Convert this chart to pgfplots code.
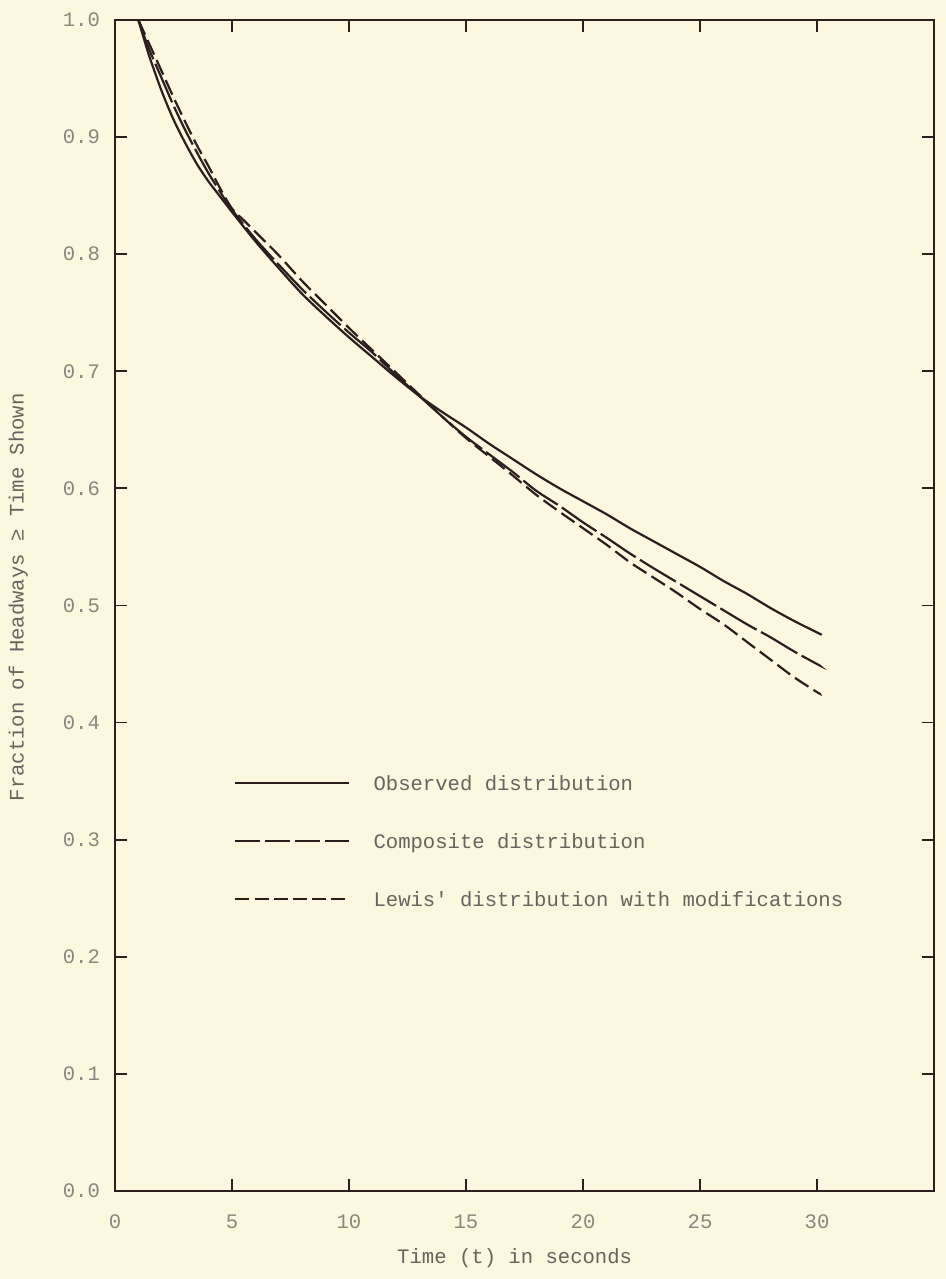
\documentclass[border=0pt]{standalone}
\usepackage{fontspec}
\setmainfont{Liberation Mono}[Ligatures=TeXOff]
\usepackage{pgfplots}
\pgfplotsset{compat=1.18}
\usetikzlibrary{backgrounds,calc}
\definecolor{bg}{RGB}{252,248,223}
\definecolor{ink}{RGB}{45,30,30}
\definecolor{tickgray}{RGB}{138,134,128}
\definecolor{txt}{RGB}{105,98,94}
\newcommand{\tfont}{\fontsize{10.3}{12}\selectfont}
\begin{document}
\begin{tikzpicture}
\begin{axis}[name=ax, scale only axis, width=409.5pt, height=585.5pt,
  xmin=0, xmax=35, ymin=0, ymax=1,
  xtick={0,5,...,30}, ytick={0,0.1,...,1.0},
  tick align=inside, major tick length=6pt,
  axis line style={ink, line width=1.1pt},
  every tick/.style={ink, line width=0.9pt},
  /pgf/number format/assume math mode=true,
  tick label style={font=\tfont, text=tickgray},
  xticklabel style={yshift=-8.5pt},
  yticklabel style={/pgf/number format/fixed, /pgf/number format/fixed zerofill, /pgf/number format/precision=1, xshift=-4pt},
  xlabel={Time (t) in seconds},
  ylabel={Fraction of Headways ≥ Time Shown},
  label style={font=\tfont, text=txt},
  xlabel style={at={(axis description cs:0.488,-0.0572)}, anchor=center},
  ylabel style={at={(axis description cs:-0.118,0.507)}, anchor=center},
  legend cell align=left,
  legend image code/.code={\draw[#1] (0pt,0.8pt) -- (57pt,0.8pt);},
  legend style={draw=none, fill=none, inner sep=0pt, outer sep=0pt,
    at={(axis cs:5.1,0.3555)}, anchor=north west, font=\tfont, text=txt,
    row sep=19pt, column sep=11.5pt,
    nodes={inner sep=0pt, text height=8pt, text depth=2pt}},
]
\addplot[ink, line width=1.1pt, smooth] coordinates {
(1,1.000)(1.25,0.983)(1.5,0.967)(2,0.939)(2.5,0.915)(3,0.895)(3.5,0.877)(4,0.862)(4.5,0.849)(5,0.836)
(6,0.811)(7,0.788)(8,0.766)(9,0.747)(10,0.729)(11,0.712)(12,0.695)(13,0.679)(14,0.665)(15,0.652)
(16,0.638)(17,0.625)(18,0.612)(19,0.600)(20,0.589)(21,0.578)(22,0.566)(23,0.555)(24,0.544)(25,0.533)
(26,0.521)(27,0.510)(28,0.498)(29,0.487)(30,0.477)(30.2,0.475)};
\addlegendentry{Observed distribution}
\addplot[ink, line width=1.1pt, smooth, dash pattern=on 21pt off 2.5pt,
  legend image post style={dash pattern=on 12.5pt off 2.5pt}] coordinates {
(1,1.000)(1.25,0.986)(1.5,0.973)(2,0.950)(2.5,0.927)(3,0.906)(3.5,0.887)(4,0.869)(4.5,0.853)(5,0.838)
(6,0.813)(7,0.791)(8,0.770)(9,0.751)(10,0.733)(11,0.716)(12,0.697)(13,0.679)(14,0.661)(15,0.644)
(16,0.629)(17,0.614)(18,0.598)(19,0.585)(20,0.571)(21,0.558)(22,0.5445)(23,0.532)(24,0.520)(25,0.508)
(26,0.496)(27,0.484)(28,0.473)(29,0.461)(30,0.450)(30.1,0.449)};
\addlegendentry{Composite distribution}
\addplot[ink, line width=1.1pt, smooth, dash pattern=on 8pt off 3pt,
  legend image post style={dash pattern=on 7pt off 2.6pt}] coordinates {
(1,1.000)(1.5,0.978)(2,0.956)(2.5,0.934)(3,0.913)(3.5,0.893)(4,0.875)(4.5,0.856)(5,0.839)(5.5,0.829)
(6,0.819)(7,0.799)(8,0.777)(9,0.757)(10,0.737)(11,0.718)(12,0.699)(13,0.680)(14,0.661)(15,0.643)
(16,0.627)(17,0.611)(18,0.5945)(19,0.580)(20,0.566)(21,0.552)(22,0.537)(23,0.524)(24,0.511)(25,0.497)
(26,0.484)(27,0.469)(28,0.454)(29,0.439)(30,0.426)(30.1,0.425)};
\addlegendentry{Lewis' distribution with modifications}
\end{axis}
\pgfresetboundingbox
\path[use as bounding box] ($(ax.south west)+(-57.5pt,-44pt)$) rectangle ($(ax.north east)+(6pt,10pt)$);
\begin{scope}[on background layer]
\fill[bg] ($(ax.south west)+(-57.5pt,-44pt)$) rectangle ($(ax.north east)+(6pt,10pt)$);
\end{scope}
\end{tikzpicture}
\end{document}
